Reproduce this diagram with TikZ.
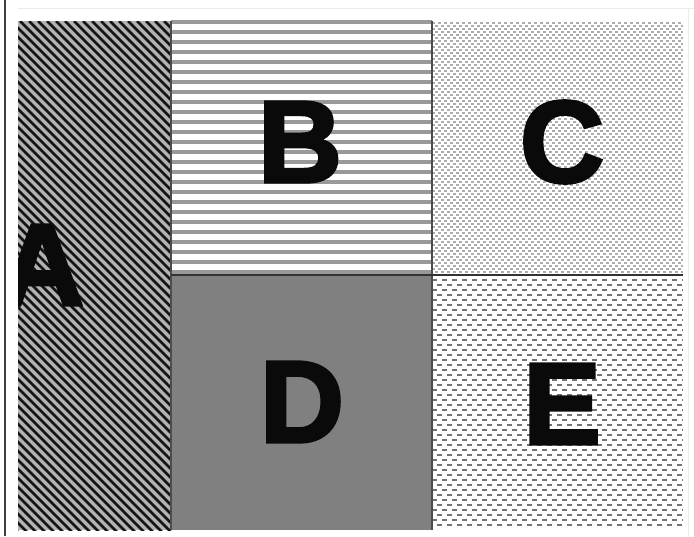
\documentclass[tikz,border=0pt]{standalone}
\usepackage{fontspec}
\newfontfamily\heavyfont{Liberation Sans Bold}[FakeBold=3]
\tikzset{letter/.style={text=black!96,font=\heavyfont\fontsize{116}{116}\selectfont,inner sep=0pt}}

\begin{document}
\begin{tikzpicture}[x=1pt,y=-1pt]
\useasboundingbox (0,0) rectangle (694,536);
\draw[black!75,line width=1.5pt] (5,0) -- (5,536);
\draw[black!8] (18,8) -- (694,8);
\draw[black!8] (688,8) -- (688,536);
% A
\fill[black!30] (18,21) rectangle (171,530);
\begin{scope}
\clip (18,21) rectangle (171,530);
\foreach \i in {-520,-511,...,180} \draw[line width=2.8pt,black!92] (\i,21) -- ++(520,520);
\node[letter] (a) at (42,265) {A};
\end{scope}
% B
\foreach \j in {22,32,...,272} \draw[line width=4pt,black!40] (171,\j) -- (432,\j);
% C
\foreach \j in {23,29,...,273} \draw[line width=1.6pt,black!32,dash pattern=on 3pt off 3pt] (432,\j) -- (683,\j);
\foreach \j in {26,32,...,272} \draw[line width=1.6pt,black!32,dash pattern=on 3pt off 3pt,dash phase=3pt] (432,\j) -- (683,\j);
% D
\fill[black!50] (171,275) rectangle (432,530);
% E
\foreach \j in {280,290,...,528} \draw[line width=1.8pt,black!55,dash pattern=on 5pt off 5pt] (432,\j) -- (683,\j);
\foreach \j in {285,295,...,528} \draw[line width=1.8pt,black!55,dash pattern=on 5pt off 5pt,dash phase=5pt] (432,\j) -- (683,\j);
% borders
\draw[black!70,line width=1.2pt] (171,21) -- (171,530);
\draw[black!70,line width=1.2pt] (432,21) -- (432,530);
\draw[black!80,line width=1.2pt] (171,275) -- (683,275);
\node[letter] (b) at (300,142) {B};
\node[letter] (c) at (562,142) {C};
\node[letter] (d) at (302,402) {D};
\node[letter] (e) at (562,404) {E};
\end{tikzpicture}
\end{document}
